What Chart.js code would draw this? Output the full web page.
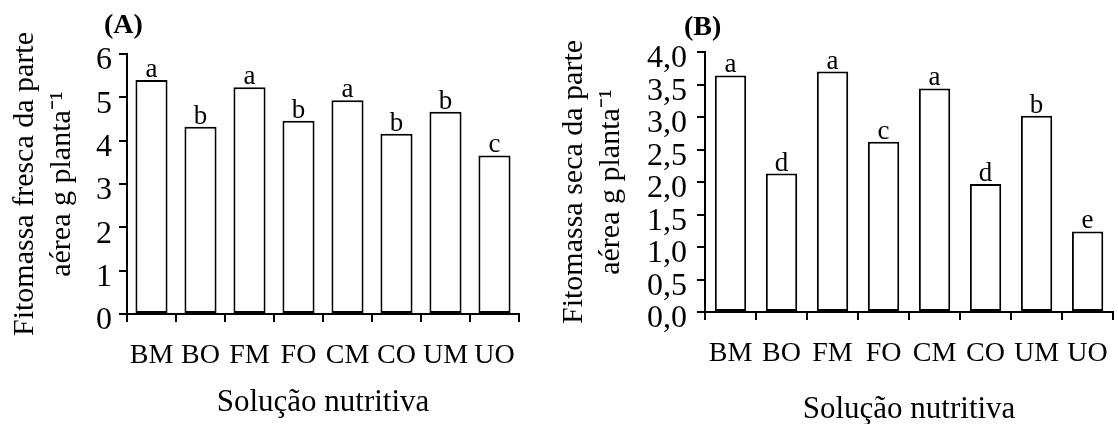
<!DOCTYPE html>
<html>
<head>
<meta charset="utf-8">
<script src="https://cdn.jsdelivr.net/npm/chart.js@4.4.1/dist/chart.umd.min.js"></script>
<style>
  html, body { margin: 0; padding: 0; background: #fff; }
  #wrap { position: relative; width: 1118px; height: 424px; overflow: hidden; }
  #chart-a { position: absolute; left: 0; top: 0; }
  #chart-b { position: absolute; left: 550px; top: 0; }
</style>
</head>
<body>
<div id="wrap">
  <canvas id="chart-a" width="550" height="424"></canvas>
  <canvas id="chart-b" width="575" height="428"></canvas>
</div>
<script>
// DATA
const labels = ['BM', 'BO', 'FM', 'FO', 'CM', 'CO', 'UM', 'UO'];
const freshMass = [5.40, 4.32, 5.23, 4.46, 4.93, 4.16, 4.67, 3.66];
const freshLetters = ['a', 'b', 'a', 'b', 'a', 'b', 'b', 'c'];
const dryMass = [3.64, 2.13, 3.70, 2.62, 3.44, 1.97, 3.02, 1.24];
const dryLetters = ['a', 'd', 'a', 'c', 'a', 'd', 'b', 'e'];
const freshTitle = ['Fitomassa fresca da parte', 'aérea g planta⁻¹'];
const dryTitle = ['Fitomassa seca da parte', 'aérea g planta⁻¹'];
const xTitle = 'Solução nutritiva';

const serif = '"Liberation Serif", "Times New Roman", serif';

// letters over the bars + panel tag
const letterPlugin = {
  id: 'letters',
  afterDatasetsDraw(chart, args, opts) {
    const ctx = chart.ctx;
    const meta = chart.getDatasetMeta(0);
    ctx.save();
    ctx.fillStyle = '#000';
    ctx.font = '27px ' + serif;
    ctx.textAlign = 'center';
    ctx.textBaseline = 'alphabetic';
    meta.data.forEach((bar, i) => {
      ctx.fillText(opts.letters[i], bar.x, bar.y - 3);
    });
    ctx.font = 'bold 28px ' + serif;
    ctx.textAlign = 'left';
    ctx.fillText(opts.tag, chart.chartArea.left + opts.tagDx, chart.chartArea.top + opts.tagDy);
    ctx.restore();
  }
};

function makeConfig(o) {
  return {
    type: 'bar',
    data: {
      labels: labels,
      datasets: [{
        data: o.values,
        backgroundColor: '#ffffff',
        borderColor: '#000000',
        borderWidth: 2,
        borderSkipped: false,
        barPercentage: o.barPct,
        categoryPercentage: 1
      }]
    },
    options: {
      responsive: false,
      animation: false,
      events: [],
      layout: { padding: { left: 0, top: o.top, right: o.right, bottom: 0 } },
      plugins: {
        legend: { display: false },
        tooltip: { enabled: false },
        letters: { letters: o.letters, tag: o.tag, tagDx: o.tagDx, tagDy: o.tagDy }
      },
      scales: {
        x: {
          offset: true,
          grid: { offset: true, drawOnChartArea: false, drawTicks: true, tickLength: 8, color: '#000', lineWidth: 2 },
          border: { display: true, color: '#000', width: 2 },
          ticks: { color: '#000', font: { family: serif, size: 28 }, padding: 17, maxRotation: 0, autoSkip: false },
          title: { display: true, text: xTitle, color: '#000', font: { family: serif, size: 31 }, padding: { top: 0, bottom: o.xTitlePad } },
          afterFit(scale) { scale.height = o.xHeight; }
        },
        y: {
          min: 0,
          max: o.yMax,
          ticks: { stepSize: o.step, autoSkip: false, color: '#000', font: { family: serif, size: 32 }, padding: o.yTickPad, labelOffset: 7, callback: o.fmt },
          grid: { drawOnChartArea: false, drawTicks: true, tickLength: 8, color: '#000', lineWidth: 2 },
          border: { display: true, color: '#000', width: 2 },
          title: { display: true, text: o.yTitle, color: '#000', font: { family: serif, size: 30, lineHeight: 1.23 }, padding: { top: o.yTitlePad, bottom: 0 } },
          afterFit(scale) { scale.width = o.left; }
        }
      }
    },
    plugins: [letterPlugin]
  };
}

const ctxA = document.getElementById('chart-a').getContext('2d');
const chartA = new Chart(ctxA, makeConfig({
  values: freshMass, letters: freshLetters, yMax: 6, step: 1,
  fmt: v => String(v), yTitle: freshTitle,
  left: 127, top: 54, right: 31, xHeight: 110, xTitlePad: 3,
  barPct: 0.655, yTickPad: 7, yTitlePad: 7,
  tag: '(A)', tagDx: -23, tagDy: -21
}));

const ctxB = document.getElementById('chart-b').getContext('2d');
const chartB = new Chart(ctxB, makeConfig({
  values: dryMass, letters: dryLetters, yMax: 4, step: 0.5,
  fmt: v => v.toFixed(1).replace('.', ','), yTitle: dryTitle,
  left: 155, top: 52, right: 3, xHeight: 116, xTitlePad: 0,
  barPct: 0.615, yTickPad: 10, yTitlePad: 6,
  tag: '(B)', tagDx: -21, tagDy: -17
}));
</script>
</body>
</html>
